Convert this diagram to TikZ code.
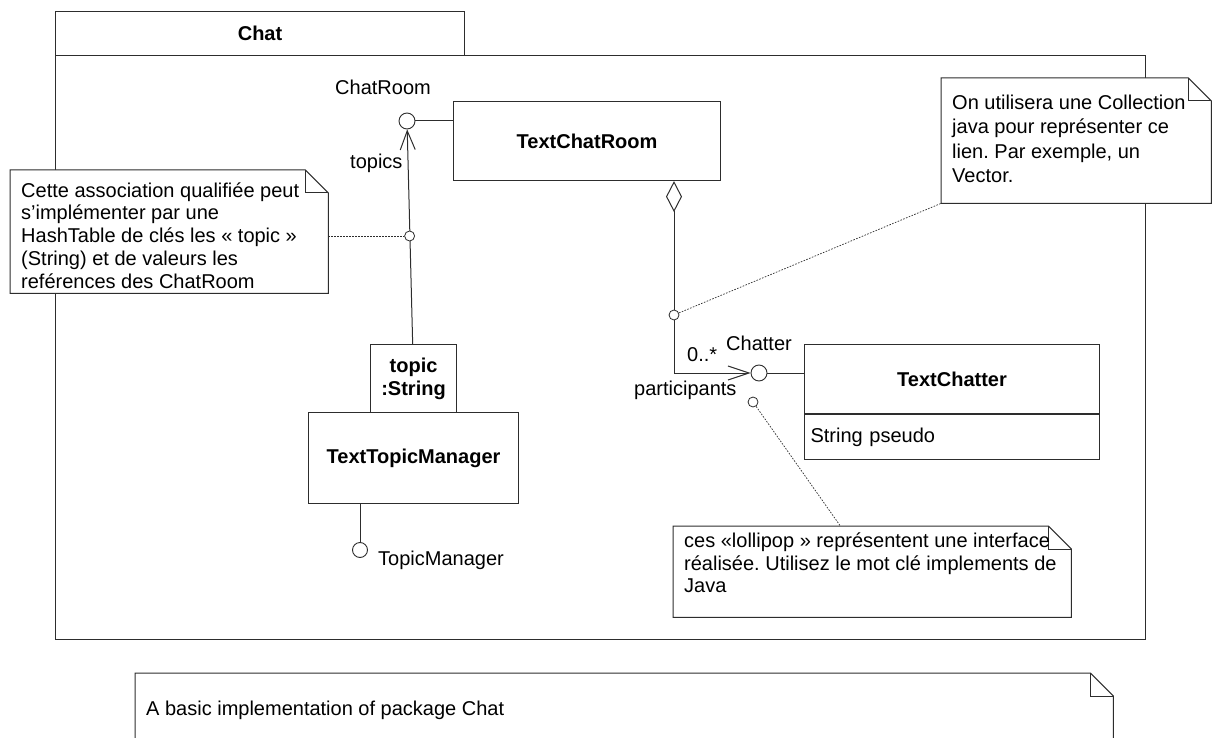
\documentclass[tikz,border=0pt]{standalone}
\usepackage{fontspec}
\setmainfont{Liberation Sans}
\usetikzlibrary{arrows.meta,calc}
\pgfdeclarelayer{background}
\pgfsetlayers{background,main}
\definecolor{ink}{RGB}{45,45,45}
\frenchspacing
\tikzset{
  x=1pt, y=-1pt,
  every node/.style={font=\fontsize{20}{22.9}\selectfont\frenchspacing, text=black},
  boxst/.style={draw=ink, line width=1.1pt, fill=white, inner sep=0pt, anchor=north west, align=center},
  boldst/.style={font=\fontsize{20}{23}\selectfont\bfseries},
  lolli/.style={circle, draw=ink, line width=0.9pt, fill=white, inner sep=0pt, minimum size=16pt},
  anchorpt/.style={circle, draw=ink, line width=0.8pt, fill=white, inner sep=0pt, minimum size=10pt},
  conn/.style={draw=ink, line width=1pt, line join=miter},
  dotln/.style={draw=ink, line width=0.7pt, dash pattern=on 1.6pt off 1.4pt},
  lbl/.style={anchor=base west, inner sep=0pt},
  notearea/.style={inner sep=0pt, anchor=north west},
  notefr/.style={draw=ink, line width=1pt, fill=white, line join=miter},
  notetxt/.style={anchor=base west, inner sep=0pt, align=left},
  opentip/.style={-{Straight Barb[length=19pt, width=15pt, line width=1pt]}},
}
\newcommand\drawnote[1]{%
  \draw[notefr] (#1.north west) -- ([xshift=-23pt]#1.north east) -- ([yshift=-23pt]#1.north east) -- (#1.south east) -- (#1.south west) -- cycle;
  \draw[notefr, fill=none] ([xshift=-23pt]#1.north east) |- ([yshift=-23pt]#1.north east);
}
\begin{document}
\begin{tikzpicture}
\useasboundingbox (0,0) rectangle (1212,738);

% package frame
\node[boxst, minimum width=409pt, minimum height=44pt, boldst] (tab) at (55,11) {Chat};
\node[boxst, fill=none, minimum width=1090pt, minimum height=584pt] (pkg) at (55,55) {};

% classes
\node[boxst, minimum width=267pt, minimum height=79pt, boldst] (tcr) at (453,101) {TextChatRoom};
\node[boxst, minimum width=86pt, minimum height=68pt, boldst] (ts) at (370,344) {topic\\:String};
\node[boxst, minimum width=210pt, minimum height=91pt, boldst] (ttm) at (308,412) {TextTopicManager};
\node[boxst, minimum width=295pt, minimum height=69pt, boldst] (tch) at (804,344) {TextChatter};
\node[boxst, minimum width=295pt, minimum height=45pt, text width=283pt, inner xsep=6pt, align=left] (tcha) at (tch.south west) {String pseudo};

% lollipops and anchor points
\node[lolli] (cr) at (407,121) {};
\node[lolli] (chc) at (759,373) {};
\node[lolli, minimum size=15pt] (tmc) at (360,550) {};
\node[anchorpt] (c1) at (409.6,236) {};
\node[anchorpt] (c2) at (674,315) {};
\node[anchorpt] (c3) at (753,402) {};

% labels
\node[lbl] (lcr) at (335,94.5) {ChatRoom};
\node[lbl] (ltop) at (350,169) {topics};
\node[lbl] (lmul) at (687,361.5) {0..*};
\node[lbl] (lcht) at (726,350.5) {Chatter};
\node[lbl] (lpar) at (634,395) {participants};
\node[lbl] (ltm) at (378,565) {TopicManager};

% notes (text anchored at the baseline of its last line)
\node[notearea, minimum width=318pt, minimum height=123pt] (n1) at (10,170) {};
\drawnote{n1}
\node[notetxt] (n1t) at (21,288.6) {Cette association qualifiée peut\\s’implémenter par une\\HashTable de clés les « topic »\\(String) et de valeurs les\\reférences des ChatRoom};

\node[notearea, minimum width=270pt, minimum height=125pt] (n2) at (941,78) {};
\drawnote{n2}
\node[notetxt, font=\fontsize{20}{24.4}\selectfont\frenchspacing] (n2t) at (952,182.7) {On utilisera une Collection\\java pour représenter ce\\lien. Par exemple, un\\Vector.};

\node[notearea, minimum width=398pt, minimum height=91pt] (n3) at (673,526) {};
\drawnote{n3}
\node[notetxt, font=\fontsize{20}{22.5}\selectfont\frenchspacing] (n3t) at (684,592.5) {ces «lollipop » représentent une interface\\réalisée. Utilisez le mot clé implements de\\Java};

\node[notearea, minimum width=978pt, minimum height=90pt] (n4) at (135,673) {};
\drawnote{n4}
\node[notetxt] (n4t) at (146,715) {A basic implementation of package Chat};

% connectors
\begin{pgfonlayer}{background}
\draw[conn, opentip] (ts) -- (cr);
\draw[conn] (cr.east) -- (cr.east -| tcr.west);
\draw[conn, {Diamond[open, length=31pt, width=16pt, line width=1pt]}-{Straight Barb[length=21pt, width=14pt, line width=1pt]}]
  (c2 |- tcr.south) -- (c2 |- chc) -- (chc);
\draw[conn] (chc) -- (chc -| tch.west);
\draw[conn] (ttm.south -| tmc) -- (tmc);
\draw[dotln] (n1.east |- c1) -- (c1);
\draw[dotln] (c2) -- (n2.south west);
\draw[dotln] (c3) -- ($(n3.north west)!0.42!(n3.north east)$);
\end{pgfonlayer}
\end{tikzpicture}
\end{document}
